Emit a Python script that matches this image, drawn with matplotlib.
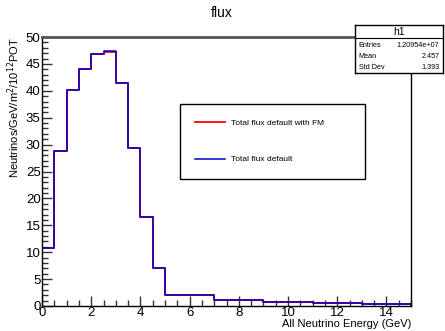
import matplotlib
matplotlib.use("Agg")
import matplotlib.pyplot as plt
import numpy as np
from matplotlib.ticker import MultipleLocator

plt.rcParams['font.family'] = ['Liberation Sans', 'DejaVu Sans']

bin_edges = [0, 0.5, 1, 1.5, 2, 2.5, 3, 3.5, 4, 4.5, 5, 7, 9, 11, 13, 15]
flux_fm = [10.7, 28.8, 40.1, 44.1, 46.8, 47.3, 41.5, 29.4, 16.5, 7.0, 2.1, 1.1, 0.75, 0.5, 0.35]
flux_default = [10.8, 28.9, 40.2, 44.1, 46.9, 47.4, 41.5, 29.4, 16.5, 7.0, 2.1, 1.1, 0.75, 0.5, 0.35]
stats_labels = ["Entries", "Mean", "Std Dev"]
stats_values = ["1.20954e+07", "2.457", "1.393"]

fig = plt.figure(figsize=(4.45, 3.31), dpi=100)
ax = fig.add_axes([42/445, 25/331, (411-42)/445, (306-37)/331])

def step_xy(edges, vals):
    x = np.repeat(edges, 2)[1:-1]
    y = np.repeat(vals, 2)
    x = np.concatenate([[edges[0]], x, [edges[-1]]])
    y = np.concatenate([[0], y, [0]])
    return x, y

x1, y1 = step_xy(bin_edges, flux_fm)
x2, y2 = step_xy(bin_edges, flux_default)
l1, = ax.plot(x1, y1, color='#ff0000', lw=1.3, label='Total flux default with FM')
l2, = ax.plot(x2, y2, color='#0000cc', lw=1.1, label='Total flux default')

ax.set_xlim(0, 15)
ax.set_ylim(0, 50)
ax.xaxis.set_major_locator(MultipleLocator(2))
ax.xaxis.set_minor_locator(MultipleLocator(0.5))
ax.yaxis.set_major_locator(MultipleLocator(5))
ax.yaxis.set_minor_locator(MultipleLocator(1))
ax.tick_params(which='both', direction='in', labelsize=9.5, top=False, right=False, color='#333333')
ax.tick_params(which='major', length=7, width=1)
ax.tick_params(which='minor', length=4, width=1)
ax.tick_params(axis='x', pad=1)
ax.tick_params(axis='y', pad=1)

for s in ['left', 'bottom', 'right']:
    ax.spines[s].set_color('black')
    ax.spines[s].set_linewidth(1.0)
ax.spines['top'].set_color('#555555')
ax.spines['top'].set_linewidth(2.0)

ax.set_xlabel('All Neutrino Energy (GeV)', fontsize=8, loc='right', labelpad=0)
ax.set_ylabel('Neutrinos/GeV/m$^2$/10$^{12}$POT', fontsize=8, loc='top', labelpad=3)

fig.text(222/445, 1 - 13/331, 'flux', fontsize=10, ha='center', va='center')

leg = fig.legend(handles=[l1, l2], loc='upper left',
                 bbox_to_anchor=(180/445, 1 - 178/331, (365-180)/445, (178-104)/331),
                 mode='expand', borderaxespad=0, fontsize=6, frameon=True, fancybox=False,
                 handlelength=3.5, labelspacing=3.4, borderpad=1.85)
leg.get_frame().set_edgecolor('black')
leg.get_frame().set_linewidth(1.0)
leg.get_frame().set_alpha(1)

# stats box
sb = fig.add_axes([355/445, 1 - 73/331, (443-355)/445, (73-25)/331])
sb.set_xlim(0, 1); sb.set_ylim(0, 1)
sb.set_xticks([]); sb.set_yticks([])
for s in sb.spines.values():
    s.set_linewidth(1.0)
    s.set_color('black')
sb.axhline(0.73, color='black', lw=0.8)
sb.text(0.5, 0.86, 'h1', fontsize=7.5, ha='center', va='center')
ys = [0.58, 0.35, 0.12]
for lab, val, yy in zip(stats_labels, stats_values, ys):
    sb.text(0.04, yy, lab, fontsize=5.2, ha='left', va='center')
    sb.text(0.96, yy, val, fontsize=5.2, ha='right', va='center')

fig.savefig('out.png', dpi=100)
